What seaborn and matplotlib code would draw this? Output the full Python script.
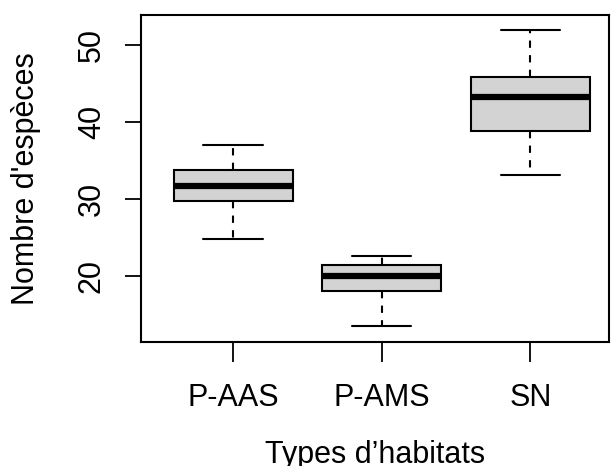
import numpy as np
import pandas as pd
import matplotlib
matplotlib.use("Agg")
import matplotlib.pyplot as plt
import seaborn as sns

# Five-number summaries: min, Q1, median, Q3, max
habitats = ["P-AAS", "P-AMS", "SN"]
p_aas = [24.7, 29.7, 31.7, 33.7, 37.0]
p_ams = [13.4, 18.0, 20.0, 21.4, 22.6]
sn = [33.1, 38.8, 43.2, 45.8, 52.0]

df = pd.DataFrame({
    "habitat": np.repeat(habitats, 5),
    "especes": p_aas + p_ams + sn,
})

sns.set_style("ticks")
plt.rcParams["font.family"] = ["Liberation Sans", "DejaVu Sans"]
plt.rcParams["text.color"] = "black"
plt.rcParams["axes.labelcolor"] = "black"
plt.rcParams["xtick.color"] = "black"
plt.rcParams["ytick.color"] = "black"

fig = plt.figure(figsize=(6.11, 4.66), dpi=100)
ax = fig.add_axes([0.2308, 0.2667, 0.766, 0.701])

sns.boxplot(data=df, x="habitat", y="especes", order=habitats, ax=ax,
            color="#d3d3d3", linecolor="black", linewidth=1.5,
            width=0.8, whis=(0, 100), saturation=1,
            medianprops=dict(linewidth=4.5, color="black"),
            whiskerprops=dict(linestyle=(0, (3.5, 3.5))),
            capprops=dict(linestyle="-"))

ax.set_xlim(-0.62, 2.53)
ax.set_ylim(11.4, 53.9)
ax.set_yticks([20, 30, 40, 50])
for s in ax.spines.values():
    s.set_visible(True)
    s.set_linewidth(1.5)
    s.set_color("black")

ax.tick_params(axis="x", length=14.5, width=1.3, pad=15, labelsize=22)
ax.tick_params(axis="y", length=11.5, width=1.3, pad=13, labelsize=22)
plt.setp(ax.get_yticklabels(), rotation=90, va="center")

# the x title's descenders run past the bottom edge, as in the original
ax.set_xlabel("Types d\u2019habitats", fontsize=22, labelpad=20)
ax.set_ylabel("Nombre d'espèces", fontsize=22, labelpad=26)

fig.savefig("out.png", dpi=100)
